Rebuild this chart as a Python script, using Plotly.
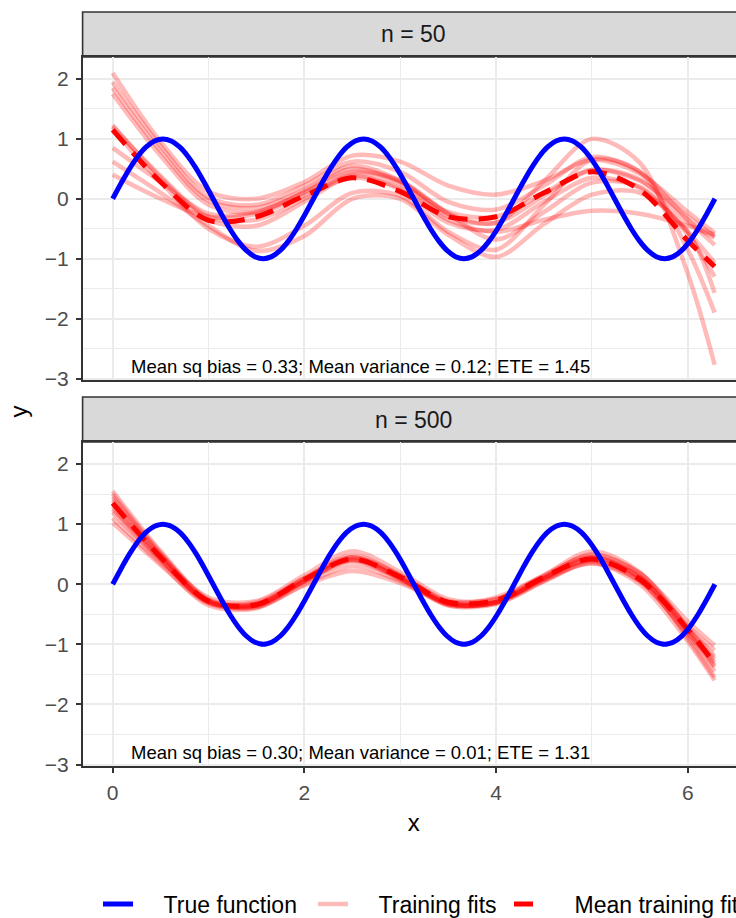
import plotly.graph_objects as go

# ---------------- data ----------------
fit_x = [0.0, 0.5, 1.0, 1.5, 2.0, 2.5, 3.0, 3.5, 4.0, 4.5, 5.0, 5.5, 6.0, 6.28]

true_x = [0.0, 0.0873, 0.1745, 0.2618, 0.3491, 0.4363, 0.5236, 0.6109, 0.6981, 0.7854,
          0.8727, 0.9599, 1.0472, 1.1345, 1.2217, 1.3090, 1.3963, 1.4835, 1.5708, 1.6581,
          1.7453, 1.8326, 1.9199, 2.0071, 2.0944, 2.1817, 2.2689, 2.3562, 2.4435, 2.5307,
          2.6180, 2.7053, 2.7925, 2.8798, 2.9671, 3.0543, 3.1416, 3.2289, 3.3161, 3.4034,
          3.4907, 3.5779, 3.6652, 3.7525, 3.8397, 3.9270, 4.0143, 4.1015, 4.1888, 4.2761,
          4.3633, 4.4506, 4.5379, 4.6251, 4.7124, 4.7997, 4.8869, 4.9742, 5.0615, 5.1487,
          5.2360, 5.3233, 5.4105, 5.4978, 5.5851, 5.6723, 5.7596, 5.8469, 5.9341, 6.0214,
          6.1087, 6.1959, 6.2832]
true_y = [0.0, 0.2588, 0.5, 0.7071, 0.866, 0.9659, 1.0, 0.9659, 0.866, 0.7071, 0.5, 0.2588,
          0.0, -0.2588, -0.5, -0.7071, -0.866, -0.9659, -1.0, -0.9659, -0.866, -0.7071, -0.5, -0.2588,
          0.0, 0.2588, 0.5, 0.7071, 0.866, 0.9659, 1.0, 0.9659, 0.866, 0.7071, 0.5, 0.2588,
          0.0, -0.2588, -0.5, -0.7071, -0.866, -0.9659, -1.0, -0.9659, -0.866, -0.7071, -0.5, -0.2588,
          0.0, 0.2588, 0.5, 0.7071, 0.866, 0.9659, 1.0, 0.9659, 0.866, 0.7071, 0.5, 0.2588,
          0.0, -0.2588, -0.5, -0.7071, -0.866, -0.9659, -1.0, -0.9659, -0.866, -0.7071, -0.5, -0.2588,
          0.0]

fits_n50 = [
    [2.10, 0.95, 0.12, 0.00, 0.28, 0.72, 0.62, 0.22, 0.07, 0.30, 0.65, 0.42, -0.22, -0.57],
    [1.95, 0.88, 0.02, -0.10, 0.22, 0.62, 0.45, -0.05, -0.18, 0.22, 0.70, 0.45, -0.35, -0.77],
    [1.85, 0.80, -0.03, -0.15, 0.15, 0.55, 0.30, -0.25, -0.40, 0.30, 1.00, 0.60, -1.25, -2.77],
    [1.75, 0.72, -0.10, -0.22, 0.12, 0.50, 0.28, -0.22, -0.30, 0.10, 0.48, 0.30, -0.30, -0.63],
    [1.23, 0.35, -0.35, -0.45, -0.05, 0.38, 0.15, -0.40, -0.52, -0.05, 0.35, 0.18, -0.55, -1.07],
    [1.15, 0.28, -0.50, -0.80, -0.45, 0.10, 0.05, -0.55, -0.85, -0.10, 0.65, 0.45, -0.85, -1.90],
    [0.85, 0.28, -0.25, -0.22, 0.10, 0.45, 0.30, -0.25, -0.68, -0.22, 0.27, 0.20, -0.60, -1.30],
    [0.62, 0.10, -0.45, -0.87, -0.62, 0.00, 0.00, -0.60, -0.97, -0.42, 0.07, 0.10, -0.55, -1.57],
    [0.40, 0.00, -0.30, -0.25, 0.05, 0.35, 0.18, -0.35, -0.55, -0.35, -0.20, -0.25, -0.45, -0.60],
    [1.20, 0.38, -0.30, -0.35, 0.00, 0.42, 0.25, -0.30, -0.40, 0.05, 0.48, 0.32, -0.40, -0.65],
]
mean_n50 = [1.15, 0.28, -0.36, -0.30, 0.05, 0.35, 0.12, -0.30, -0.30, 0.10, 0.45, 0.15, -0.70, -1.13]

fits_n500 = [
    [1.55, 0.55, -0.25, -0.35, 0.08, 0.45, 0.12, -0.32, -0.30, 0.10, 0.45, 0.10, -0.90, -1.55],
    [1.45, 0.50, -0.28, -0.38, 0.05, 0.42, 0.10, -0.33, -0.30, 0.12, 0.50, 0.18, -0.72, -1.20],
    [1.40, 0.48, -0.22, -0.28, 0.15, 0.55, 0.20, -0.25, -0.25, 0.15, 0.55, 0.20, -0.75, -1.35],
    [1.30, 0.42, -0.30, -0.35, 0.05, 0.40, 0.10, -0.35, -0.33, 0.05, 0.38, 0.05, -0.85, -1.45],
    [1.25, 0.42, -0.28, -0.30, 0.10, 0.45, 0.15, -0.28, -0.25, 0.12, 0.40, 0.10, -0.70, -1.10],
    [1.20, 0.40, -0.30, -0.33, 0.05, 0.38, 0.08, -0.33, -0.30, 0.08, 0.42, 0.12, -0.75, -1.25],
    [1.10, 0.35, -0.35, -0.40, 0.00, 0.30, 0.05, -0.35, -0.30, 0.08, 0.35, 0.05, -0.82, -1.30],
    [1.02, 0.32, -0.32, -0.38, -0.02, 0.22, 0.02, -0.30, -0.22, 0.15, 0.48, 0.18, -0.62, -1.02],
    [1.50, 0.52, -0.27, -0.33, 0.10, 0.48, 0.15, -0.30, -0.32, 0.05, 0.35, 0.00, -0.95, -1.60],
    [1.35, 0.45, -0.30, -0.36, 0.06, 0.40, 0.10, -0.33, -0.30, 0.10, 0.45, 0.12, -0.80, -1.38],
]
mean_n500 = [1.35, 0.45, -0.28, -0.34, 0.08, 0.42, 0.12, -0.30, -0.27, 0.12, 0.42, 0.08, -0.75, -1.32]

panel_labels = ["n = 50", "n = 500"]
stat_labels = ["Mean sq bias = 0.33; Mean variance = 0.12; ETE = 1.45",
               "Mean sq bias = 0.30; Mean variance = 0.01; ETE = 1.31"]
legend_names = ["True function", "Training fits", "Mean training fit"]

x_ticks = [0, 2, 4, 6]
y_ticks = [-3, -2, -1, 0, 1, 2]

# ---------------- layout geometry ----------------
W, H = 760, 918
x_dom = [82.6 / W, 745.0 / W]
y_dom_top = [(H - 380) / H, (H - 57) / H]
y_dom_bot = [(H - 766) / H, (H - 442) / H]
strip_top = [(H - 57) / H, (H - 12) / H]
strip_bot = [(H - 442) / H, (H - 397) / H]
x_range = [-0.314, 6.597]
y_range = [-3.025, 2.367]

FONT = "Liberation Sans, Arial, Helvetica, sans-serif"
BLUE = "#0000FF"
FIT_COL = "rgba(255,0,0,0.27)"
RED = "#FF0000"
PAD = "\u00a0\u00a0\u00a0\u00a0"  # gap between legend key and label

fig = go.Figure()

panels = [(fits_n50, mean_n50, "x", "y"), (fits_n500, mean_n500, "x2", "y2")]
for p, (fits, mean, xa, ya) in enumerate(panels):
    first = p == 0
    for i, f in enumerate(fits):
        fig.add_trace(go.Scatter(
            x=fit_x, y=f, xaxis=xa, yaxis=ya, mode="lines",
            line=dict(color=FIT_COL, width=4.5, shape="spline", smoothing=0.9),
            name=PAD + legend_names[1], legend="legend2", legendgroup="fits",
            showlegend=first and i == 0, hoverinfo="skip"))
    fig.add_trace(go.Scatter(
        x=fit_x, y=mean, xaxis=xa, yaxis=ya, mode="lines",
        line=dict(color=RED, width=5, dash="19px,11px", shape="spline", smoothing=0.9),
        name=PAD + legend_names[2], legend="legend3", legendgroup="mean",
        showlegend=first, hoverinfo="skip"))
    fig.add_trace(go.Scatter(
        x=true_x, y=true_y, xaxis=xa, yaxis=ya, mode="lines",
        line=dict(color=BLUE, width=5, shape="spline", smoothing=0.5),
        name=PAD + legend_names[0], legend="legend", legendgroup="true",
        showlegend=first, hoverinfo="skip"))

axis_common = dict(
    range=x_range, tickvals=x_ticks, showgrid=True, gridcolor="#EBEBEB", gridwidth=1.6,
    minor=dict(tickvals=[1, 3, 5], showgrid=True, gridcolor="#EBEBEB", gridwidth=0.8),
    zeroline=False, showline=True, linecolor="#333333", linewidth=1.6, mirror=True,
    automargin=False, fixedrange=True,
)
yaxis_common = dict(
    range=y_range, tickvals=y_ticks, showgrid=True, gridcolor="#EBEBEB", gridwidth=1.6,
    minor=dict(tickvals=[-2.5, -1.5, -0.5, 0.5, 1.5], showgrid=True,
               gridcolor="#EBEBEB", gridwidth=0.8),
    zeroline=False, showline=True, linecolor="#333333", linewidth=1.6, mirror=True,
    ticks="outside", ticklen=5, tickwidth=1.5, tickcolor="#333333",
    tickfont=dict(family=FONT, size=21, color="#4D4D4D"), ticklabelstandoff=3,
    automargin=False, fixedrange=True,
)

legend_common = dict(orientation="h", y=(H - 904) / H, xanchor="left", yanchor="middle",
                     font=dict(family=FONT, size=23, color="black"), bgcolor="rgba(0,0,0,0)",
                     borderwidth=0, itemclick=False, itemdoubleclick=False)

fig.update_layout(
    template="none",
    width=W, height=H,
    margin=dict(l=0, r=0, t=0, b=0, pad=0, autoexpand=False),
    paper_bgcolor="white", plot_bgcolor="white",
    font=dict(family=FONT, color="black"),
    xaxis=dict(domain=x_dom, anchor="y", showticklabels=False, ticks="", **axis_common),
    yaxis=dict(domain=y_dom_top, anchor="x", **yaxis_common),
    xaxis2=dict(domain=x_dom, anchor="y2", ticks="outside", ticklen=5, tickwidth=1.5,
                tickcolor="#333333", tickfont=dict(family=FONT, size=21, color="#4D4D4D"),
                ticklabelstandoff=2,
                title=dict(text="x", font=dict(family=FONT, size=24, color="black"), standoff=11),
                **axis_common),
    yaxis2=dict(domain=y_dom_bot, anchor="x2", **yaxis_common),
    legend=dict(x=98 / W, **legend_common),
    legend2=dict(x=313 / W, **legend_common),
    legend3=dict(x=509 / W, **legend_common),
    hovermode=False,
)

shapes = []
annotations = []
for label, (y0, y1) in zip(panel_labels, [strip_top, strip_bot]):
    shapes.append(dict(type="rect", xref="paper", yref="paper", x0=x_dom[0], x1=x_dom[1],
                       y0=y0, y1=y1, fillcolor="#D9D9D9",
                       line=dict(color="#333333", width=1.6), layer="below"))
    annotations.append(dict(xref="paper", yref="paper", x=(x_dom[0] + x_dom[1]) / 2,
                            y=(y0 + y1) / 2, text=label, showarrow=False,
                            xanchor="center", yanchor="middle",
                            font=dict(family=FONT, size=23, color="#1A1A1A")))

for stat, (xr, yr) in zip(stat_labels, [("x", "y"), ("x2", "y2")]):
    annotations.append(dict(xref=xr, yref=yr, x=0.165, y=-2.8, text=stat, showarrow=False,
                            xanchor="left", yanchor="middle",
                            font=dict(family=FONT, size=18.5, color="black")))

annotations.append(dict(xref="paper", yref="paper", x=18 / W, y=(H - 411.5) / H, text="y",
                        textangle=-90, showarrow=False, xanchor="center", yanchor="middle",
                        font=dict(family=FONT, size=24, color="black")))

fig.update_layout(shapes=shapes, annotations=annotations)

fig.write_html(
    "out.html",
    config={"displayModeBar": False},
    post_script="document.body.style.margin='0';document.body.style.overflow='hidden';"
                "document.documentElement.style.overflow='hidden';",
)
